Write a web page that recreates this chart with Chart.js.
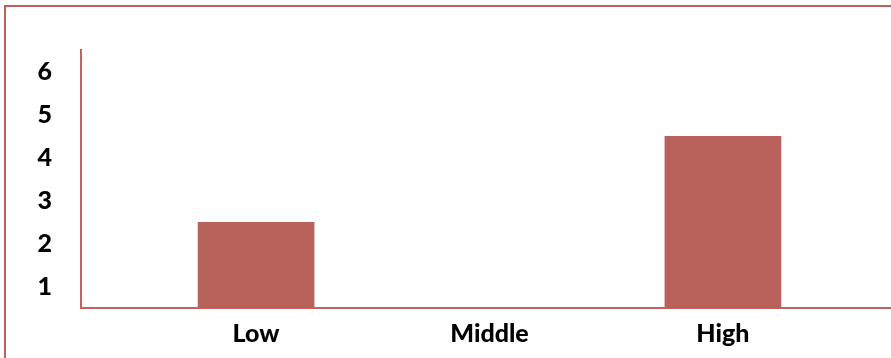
<!DOCTYPE html>
<html>
<head>
<meta charset="utf-8">
<script src="https://cdn.jsdelivr.net/npm/chart.js@4"></script>
<style>
  html, body { margin: 0; padding: 0; background: #fff; overflow: hidden; }
  #wrap { position: relative; width: 891px; height: 358px; }
  #frame { position: absolute; left: 4px; top: 5px; width: 1000px; height: 600px; border: 2px solid #c0605c; box-sizing: border-box; }
  canvas { position: absolute; left: 0; top: 0; }
</style>
</head>
<body>
<div id="wrap">
  <div id="frame"></div>
  <canvas id="grafico" width="891" height="358"></canvas>
</div>
<script>
const categorias = ["Low", "Middle", "High"];
const valores = [2.5, 0, 4.5];
const etiquetasY = [1, 2, 3, 4, 5, 6];

const colorBarra = "#b9615b";
const colorEje = "#c4625e";

const puntos = valores.map((v, i) => ({ x: i + 1, y: v }));

const ctx = document.getElementById("grafico").getContext("2d");

new Chart(ctx, {
  type: "bar",
  data: {
    datasets: [{
      data: puntos,
      backgroundColor: colorBarra,
      borderWidth: 0,
      barPercentage: 0.5,
      categoryPercentage: 1
    }]
  },
  options: {
    responsive: false,
    animation: false,
    layout: { padding: { top: 50, left: 0, right: 0, bottom: 0 } },
    plugins: { legend: { display: false }, tooltip: { enabled: false } },
    scales: {
      x: {
        type: "linear",
        offset: false,
        min: 0.25,
        max: 3.72,
        grid: { display: false, drawTicks: false, offset: false },
        border: { display: true, color: colorEje, width: 2 },
        ticks: {
          stepSize: 1,
          includeBounds: false,
          autoSkip: false,
          maxRotation: 0,
          padding: 11,
          color: "#000",
          font: { family: "Lato", weight: "900", size: 25 },
          callback: (v) => Number.isInteger(v) && v >= 1 && v <= categorias.length ? categorias[v - 1] : ""
        },
        afterFit: (scale) => { scale.height = 50; }
      },
      y: {
        min: 0.5,
        max: 6.5,
        grid: { display: false, drawTicks: false },
        border: { display: true, color: colorEje, width: 2 },
        afterBuildTicks: (scale) => { scale.ticks = etiquetasY.map((v) => ({ value: v })); },
        ticks: {
          padding: 29,
          color: "#000",
          font: { family: "Lato", weight: "900", size: 25 },
          callback: (v) => String(v)
        },
        afterFit: (scale) => { scale.width = 81; }
      }
    }
  }
});
</script>
</body>
</html>
